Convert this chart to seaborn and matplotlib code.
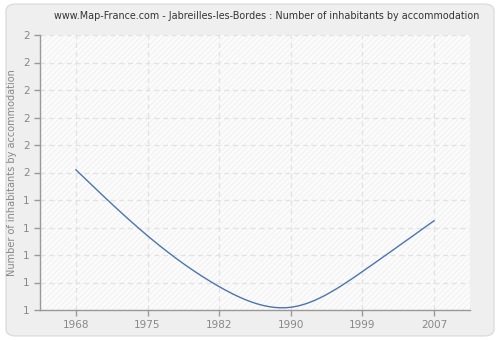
import numpy as np
import pandas as pd
import matplotlib
matplotlib.use("Agg")
import matplotlib.pyplot as plt
import seaborn as sns
from matplotlib.patches import FancyBboxPatch

years = ["1968", "1975", "1982", "1990", "1999", "2007"]
values = [1.51, 1.27, 1.085, 1.01, 1.14, 1.325]
y_ticks = [1.0, 1.1, 1.2, 1.3, 1.4, 1.5, 1.6, 1.7, 1.8, 1.9, 2.0]

sns.set_style("white")
plt.rcParams['font.family'] = ['DejaVu Sans']
plt.rcParams['hatch.linewidth'] = 0.5


def natural_spline(x, y, n=300):
    x = np.asarray(x, float); y = np.asarray(y, float)
    k = len(x)
    h = np.diff(x)
    A = np.zeros((k, k)); b = np.zeros(k)
    A[0, 0] = 1; A[-1, -1] = 1
    for i in range(1, k - 1):
        A[i, i - 1] = h[i - 1]; A[i, i] = 2 * (h[i - 1] + h[i]); A[i, i + 1] = h[i]
        b[i] = 3 * ((y[i + 1] - y[i]) / h[i] - (y[i] - y[i - 1]) / h[i - 1])
    c = np.linalg.solve(A, b)
    xs = np.linspace(x[0], x[-1], n)
    ys = np.empty_like(xs)
    for j, xv in enumerate(xs):
        i = min(np.searchsorted(x, xv, side='right') - 1, k - 2)
        dx = xv - x[i]
        bi = (y[i + 1] - y[i]) / h[i] - h[i] * (2 * c[i] + c[i + 1]) / 3
        di = (c[i + 1] - c[i]) / (3 * h[i])
        ys[j] = y[i] + bi * dx + c[i] * dx ** 2 + di * dx ** 3
    return xs, ys


pos = np.arange(len(years))
xs, ys = natural_spline(pos, values)
df = pd.DataFrame({"x": xs, "y": ys})

fig = plt.figure(figsize=(5, 3.4), dpi=100)
fig.patch.set_facecolor("white")
bg = FancyBboxPatch((0.012, 0.012), 0.976, 0.976, boxstyle="round,pad=0,rounding_size=0.02",
                    transform=fig.transFigure, facecolor="#efefef", edgecolor="#dddddd",
                    linewidth=1, zorder=-10)
fig.patches.append(bg)

ax = fig.add_axes([40 / 500, 1 - 310 / 340, 430 / 500, 275 / 340])
ax.patch.set_facecolor("#fbfbfb")
ax.patch.set_hatch("//////")
ax.patch.set_edgecolor("#eeeeee")

sns.lineplot(data=df, x="x", y="y", ax=ax, color="#4a76ae", linewidth=1.0)

ax.set_xlim(-0.5, 5.5)
ax.set_ylim(1.0, 2.0)
ax.set_xticks(pos)
ax.set_xticklabels(years)
ax.set_yticks(y_ticks)
ax.set_yticklabels([f"{v:.0f}" for v in y_ticks])
ax.set_xlabel("")
ax.set_ylabel("Number of inhabitants by accommodation", color="#888888", fontsize=7)

ax.grid(True, color="#e2e2e2", linestyle=(0, (4, 3)), linewidth=0.9)
ax.set_axisbelow(True)
for s in ["top", "right"]:
    ax.spines[s].set_visible(False)
for s in ["left", "bottom"]:
    ax.spines[s].set_color("#999999")
    ax.spines[s].set_linewidth(1)
ax.tick_params(axis="both", colors="#999999", labelcolor="#888888", labelsize=7.5,
               direction="out", length=4, width=1, left=True, bottom=True)

fig.text(267 / 500, 1 - 16 / 340, "www.Map-France.com - Jabreilles-les-Bordes : Number of inhabitants by accommodation",
         ha="center", va="center", fontsize=6.9, color="#333333")

fig.savefig("out.png", dpi=100, facecolor=fig.get_facecolor())
